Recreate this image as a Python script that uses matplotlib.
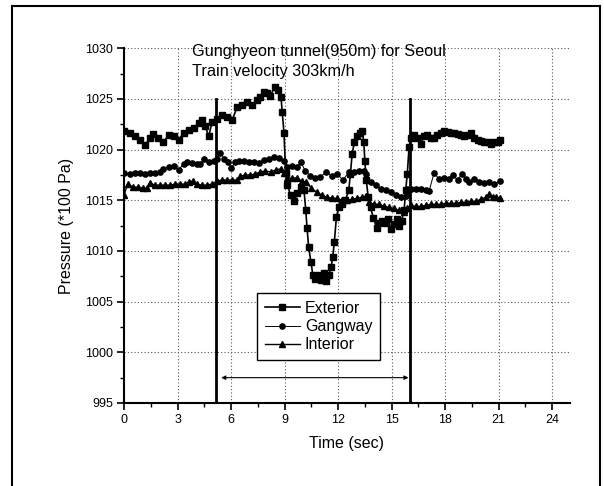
import matplotlib
matplotlib.use("Agg")
import matplotlib.pyplot as plt
from matplotlib.lines import Line2D
from matplotlib.ticker import MultipleLocator

plt.rcParams['font.family'] = ['Liberation Sans', 'DejaVu Sans']

# exterior pressure (time in sec, pressure in 100 Pa)
ext_t = [0.0, 0.34, 0.62, 0.90, 1.18, 1.46, 1.65, 1.93, 2.21, 2.50, 2.78, 3.06, 3.34, 3.62,
         3.90, 4.18, 4.37, 4.56, 4.75, 4.93, 5.22, 5.50, 5.78, 6.06, 6.34, 6.62, 6.90, 7.19,
         7.47, 7.65, 7.84, 8.03, 8.20, 8.45, 8.65, 8.80, 8.87, 8.97, 9.06, 9.16, 9.34, 9.53,
         9.72, 9.91, 10.09, 10.19, 10.26, 10.35, 10.48, 10.59, 10.72, 10.91, 11.04, 11.19,
         11.34, 11.47, 11.61, 11.70, 11.79, 11.91, 12.04, 12.23, 12.41, 12.60, 12.69, 12.79,
         12.92, 13.07, 13.22, 13.35, 13.44, 13.50, 13.58, 13.69, 13.82, 13.97, 14.16, 14.29,
         14.48, 14.66, 14.80, 14.95, 15.13, 15.28, 15.41, 15.56, 15.70, 15.79, 15.88, 15.98,
         16.07, 16.26, 16.45, 16.63, 16.82, 17.01, 17.20, 17.38, 17.57, 17.76, 17.95, 18.14,
         18.32, 18.51, 18.70, 18.89, 19.07, 19.26, 19.45, 19.64, 19.83, 20.01, 20.20, 20.39,
         20.57, 20.76, 20.95, 21.10]
ext_p = [1021.8, 1021.6, 1021.3, 1021.0, 1020.5, 1021.1, 1021.5, 1021.1, 1020.8, 1021.4,
         1021.3, 1021.0, 1021.6, 1021.9, 1022.1, 1022.6, 1022.9, 1022.3, 1021.3, 1022.7,
         1023.0, 1023.4, 1023.2, 1022.9, 1024.2, 1024.4, 1024.7, 1024.4, 1024.9, 1025.2,
         1025.7, 1025.6, 1025.3, 1026.2, 1025.9, 1025.2, 1023.7, 1021.6, 1017.7, 1016.5,
         1015.5, 1014.9, 1015.7, 1016.3, 1016.0, 1014.0, 1012.3, 1010.4, 1008.9, 1007.6,
         1007.2, 1007.6, 1007.1, 1007.8, 1007.0, 1007.6, 1008.4, 1009.4, 1010.9, 1013.4,
         1014.3, 1014.6, 1015.0, 1016.0, 1017.6, 1019.6, 1020.8, 1021.3, 1021.6, 1021.8,
         1020.8, 1018.9, 1017.0, 1015.3, 1014.3, 1013.3, 1012.3, 1012.8, 1013.0, 1012.8,
         1013.2, 1012.2, 1012.7, 1013.2, 1012.5, 1013.0, 1014.0, 1016.0, 1017.6, 1020.3,
         1021.1, 1021.4, 1021.1, 1020.6, 1021.3, 1021.4, 1021.1, 1021.1, 1021.4, 1021.6,
         1021.8, 1021.7, 1021.6, 1021.6, 1021.5, 1021.4, 1021.3, 1021.4, 1021.6, 1021.1,
         1021.0, 1020.9, 1020.8, 1020.8, 1020.6, 1020.8, 1020.8, 1021.0]

# gangway pressure
gw_t = [0.0, 0.34, 0.62, 0.90, 1.18, 1.46, 1.74, 2.03, 2.21, 2.50, 2.78, 3.06, 3.34, 3.53,
        3.81, 4.09, 4.28, 4.50, 4.75, 5.03, 5.22, 5.40, 5.63, 5.82, 6.02, 6.25, 6.44, 6.72,
        7.00, 7.28, 7.56, 7.84, 8.12, 8.40, 8.69, 8.97, 9.15, 9.44, 9.72, 9.91, 10.16, 10.45,
        10.72, 11.00, 11.34, 11.66, 11.94, 12.28, 12.60, 12.88, 13.16, 13.44, 13.54, 13.82,
        14.10, 14.38, 14.66, 14.95, 15.23, 15.51, 15.79, 15.88, 16.07, 16.35, 16.63, 16.91,
        17.10, 17.38, 17.66, 17.95, 18.23, 18.42, 18.70, 18.93, 19.17, 19.36, 19.64, 19.92,
        20.20, 20.48, 20.76, 21.10]
gw_p = [1017.7, 1017.6, 1017.7, 1017.7, 1017.6, 1017.7, 1017.7, 1017.8, 1018.1, 1018.3,
        1018.4, 1018.0, 1018.6, 1018.8, 1018.7, 1018.6, 1018.6, 1019.1, 1018.8, 1018.9,
        1019.1, 1019.7, 1019.1, 1018.8, 1018.2, 1018.8, 1018.9, 1018.9, 1018.8, 1018.8,
        1018.7, 1019.0, 1019.1, 1019.3, 1019.2, 1018.9, 1018.3, 1018.4, 1018.3, 1018.8,
        1017.9, 1017.4, 1017.2, 1017.3, 1017.8, 1017.4, 1017.6, 1017.0, 1017.8, 1017.8,
        1017.9, 1017.9, 1017.6, 1016.8, 1016.5, 1016.1, 1016.0, 1015.8, 1015.5, 1015.3,
        1015.4, 1016.1, 1016.1, 1016.1, 1016.1, 1016.0, 1015.9, 1017.7, 1017.1, 1017.2,
        1017.1, 1017.5, 1017.0, 1017.6, 1017.1, 1016.8, 1017.1, 1016.8, 1016.7, 1016.8,
        1016.6, 1016.9]

# interior pressure
in_t = [0.0, 0.2, 0.5, 0.8, 1.09, 1.28, 1.46, 1.74, 2.03, 2.31, 2.59, 2.87, 3.15, 3.43,
        3.62, 3.86, 4.09, 4.37, 4.65, 4.93, 5.22, 5.50, 5.78, 6.06, 6.34, 6.53, 6.81, 7.09,
        7.37, 7.65, 7.93, 8.22, 8.50, 8.78, 8.97, 9.16, 9.44, 9.72, 9.95, 10.2, 10.5, 10.8,
        11.1, 11.38, 11.66, 11.94, 12.23, 12.51, 12.79, 13.07, 13.35, 13.54, 13.73, 14.01,
        14.29, 14.57, 14.85, 15.13, 15.41, 15.70, 15.88, 16.07, 16.35, 16.63, 16.91, 17.20,
        17.48, 17.76, 18.04, 18.32, 18.60, 18.89, 19.17, 19.45, 19.73, 20.01, 20.29, 20.48,
        20.66, 20.85, 21.10]
in_p = [1015.5, 1016.6, 1016.3, 1016.3, 1016.2, 1016.2, 1016.7, 1016.5, 1016.5, 1016.5,
        1016.5, 1016.6, 1016.6, 1016.6, 1016.8, 1016.9, 1016.6, 1016.5, 1016.5, 1016.6,
        1016.9, 1017.0, 1017.0, 1017.0, 1017.0, 1017.4, 1017.5, 1017.5, 1017.6, 1017.8,
        1017.9, 1017.8, 1018.0, 1018.1, 1017.7, 1017.2, 1017.2, 1017.2, 1016.9, 1016.8,
        1016.2, 1015.8, 1015.5, 1015.3, 1015.2, 1015.2, 1015.0, 1015.0, 1015.1, 1015.2,
        1015.3, 1015.4, 1014.8, 1014.6, 1014.6, 1014.4, 1014.3, 1014.2, 1014.0, 1013.8,
        1014.2, 1014.5, 1014.4, 1014.4, 1014.5, 1014.6, 1014.6, 1014.6, 1014.7, 1014.7,
        1014.7, 1014.8, 1014.8, 1014.9, 1014.9, 1015.1, 1015.3, 1015.6, 1015.3, 1015.3,
        1015.2]

# tunnel entry / exit times
tunnel_in = 5.17
tunnel_out = 16.03

fig = plt.figure(figsize=(6.04, 4.86), dpi=100)
ax = fig.add_axes([0.2053, 0.1708, 0.7384, 0.7298])

ax.plot(ext_t, ext_p, '-s', color='k', lw=1.2, ms=4.5, label='Exterior')
ax.plot(gw_t, gw_p, '-o', color='k', lw=0.7, ms=3.8, label='Gangway')
ax.plot(in_t, in_p, '-^', color='k', lw=1.0, ms=4, label='Interior')

ax.plot([tunnel_in, tunnel_in], [995, 1025], color='k', lw=2)
ax.plot([tunnel_out, tunnel_out], [995, 1025], color='k', lw=2)
ax.annotate('', xy=(5.45, 997.5), xytext=(15.95, 997.5),
            arrowprops=dict(arrowstyle='<|-|>', lw=0.8, mutation_scale=6, color='k',
                            shrinkA=0, shrinkB=0))

ax.set_xlim(0, 25)
ax.set_ylim(995, 1030)
ax.xaxis.set_major_locator(MultipleLocator(3))
ax.xaxis.set_minor_locator(MultipleLocator(1.5))
ax.yaxis.set_major_locator(MultipleLocator(5))
ax.yaxis.set_minor_locator(MultipleLocator(2.5))
ax.grid(True, which='major', color='0.35', linestyle=(0, (1, 2)), lw=0.8)
ax.set_axisbelow(True)

for s in ['top', 'right']:
    ax.spines[s].set_visible(False)
for s in ['left', 'bottom']:
    ax.spines[s].set_linewidth(1.5)
ax.tick_params(which='major', direction='out', length=5, width=1.2, labelsize=9, pad=3)
ax.tick_params(which='minor', direction='out', length=3, width=1.0)

ax.set_xlabel('Time (sec)', fontsize=11.5, labelpad=7)
ax.set_ylabel('Pressure (*100 Pa)', fontsize=11.5, labelpad=8)

ax.text(0.152, 0.992, 'Gunghyeon tunnel(950m) for Seoul', transform=ax.transAxes,
        fontsize=11.7, va='center', ha='left')
ax.text(0.152, 0.936, 'Train velocity 303km/h', transform=ax.transAxes,
        fontsize=11.7, va='center', ha='left')

leg = ax.legend(loc='upper left', bbox_to_anchor=(0.298, 0.31), borderaxespad=0,
                fontsize=11.5, fancybox=False, edgecolor='k', framealpha=1,
                handlelength=2.2, borderpad=0.5, labelspacing=0.2, handletextpad=0.3)
leg.get_frame().set_linewidth(1.0)

# outer frame around the figure
fig.add_artist(Line2D([0.02, 0.02], [-0.01, 0.988], color='k', lw=1.5))
fig.add_artist(Line2D([0.02, 0.993], [0.988, 0.988], color='k', lw=1.5))
fig.add_artist(Line2D([0.993, 0.993], [-0.01, 0.988], color='k', lw=1.5))

fig.savefig('out.png', dpi=100)
